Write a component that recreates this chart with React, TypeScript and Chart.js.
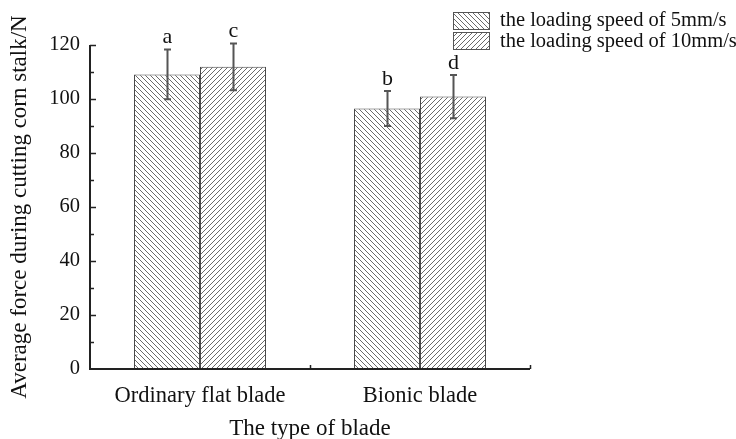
import React, { useEffect, useRef } from "react";
import { Chart, registerables } from "chart.js";

Chart.register(...registerables);

const categories = ["Ordinary flat blade", "Bionic blade"];
const seriesLabels = ["the loading speed of 5mm/s", "the loading speed of 10mm/s"];
const speed5 = [109.1, 96.5];
const speed10 = [111.9, 100.9];
const err5 = [9.2, 6.5];
const err10 = [8.7, 8.0];
const letters5 = ["a", "b"];
const letters10 = ["c", "d"];
const yMin = 0;
const yMax = 120;
const yMajorStep = 20;
const yMinorStep = 10;
const yTitle = "Average force during cutting corn stalk/N";
const xTitle = "The type of blade";

const FONT = "'Liberation Serif', 'Times New Roman', serif";
const TEXT = "#111111";
const AXIS = "#222222";

function makeHatch(dir: "back" | "fwd"): CanvasPattern | string {
  const s = 5;
  const c = document.createElement("canvas");
  c.width = s;
  c.height = s;
  const ctx = c.getContext("2d");
  if (!ctx) return "#fff";
  ctx.fillStyle = "#ffffff";
  ctx.fillRect(0, 0, s, s);
  ctx.strokeStyle = "#6a6a6a";
  ctx.lineWidth = 1;
  ctx.beginPath();
  for (let k = -1; k <= 2; k++) {
    if (dir === "back") {
      ctx.moveTo(-1, -1 + k * s);
      ctx.lineTo(s + 1, s + 1 + k * s);
    } else {
      ctx.moveTo(-1, k * s + 1);
      ctx.lineTo(s + 1, k * s - s - 1);
    }
  }
  ctx.stroke();
  const p = ctx.createPattern(c, "repeat");
  return p || "#fff";
}

const errs = [err5, err10];
const letters = [letters5, letters10];

const overlayPlugin = {
  id: "overlay",
  afterDatasetsDraw(chart: any) {
    const ctx = chart.ctx;
    const x = chart.scales.x;
    const y = chart.scales.y;
    ctx.save();
    // error bars and letters
    chart.data.datasets.forEach((ds: any, di: number) => {
      const meta = chart.getDatasetMeta(di);
      meta.data.forEach((bar: any, i: number) => {
        const v = ds.data[i];
        const e = errs[di][i];
        const cx = Math.round(bar.x) + 0.5;
        const yt = y.getPixelForValue(v + e);
        const yb = y.getPixelForValue(v - e);
        ctx.strokeStyle = "#555555";
        ctx.lineWidth = 2;
        ctx.beginPath();
        ctx.moveTo(cx, yt);
        ctx.lineTo(cx, yb);
        ctx.moveTo(cx - 3.5, yt);
        ctx.lineTo(cx + 3.5, yt);
        ctx.moveTo(cx - 3.5, yb);
        ctx.lineTo(cx + 3.5, yb);
        ctx.stroke();
        ctx.fillStyle = TEXT;
        ctx.font = `22px ${FONT}`;
        ctx.textAlign = "center";
        ctx.textBaseline = "bottom";
        ctx.fillText(letters[di][i], cx, yt - 1);
      });
    });
    // axes
    ctx.strokeStyle = AXIS;
    ctx.lineWidth = 2;
    const left = Math.round(chart.chartArea.left);
    const right = Math.round(chart.chartArea.right);
    const bottom = Math.round(y.getPixelForValue(yMin));
    const top = Math.round(y.getPixelForValue(yMax));
    ctx.beginPath();
    ctx.moveTo(left, top);
    ctx.lineTo(left, bottom);
    ctx.lineTo(right, bottom);
    ctx.stroke();
    ctx.lineWidth = 1.5;
    ctx.beginPath();
    for (let v = yMin; v <= yMax; v += yMinorStep) {
      const py = Math.round(y.getPixelForValue(v)) + 0.5;
      const len = v % yMajorStep === 0 ? 6 : 4;
      if (v === yMin) continue;
      ctx.moveTo(left, py);
      ctx.lineTo(left + len, py);
    }
    // x ticks at category boundaries
    const n = categories.length;
    for (let i = 0; i < n; i++) {
      const b = x.getPixelForValue(i) + (x.getPixelForValue(1) - x.getPixelForValue(0)) / 2;
      const bx = Math.round(b) + 0.5;
      ctx.moveTo(bx, bottom);
      ctx.lineTo(bx, bottom - 4);
    }
    ctx.stroke();
    // legend
    const lx = 453;
    const ly = [12, 32];
    const ty = [21, 42];
    chart.data.datasets.forEach((ds: any, di: number) => {
      ctx.fillStyle = ds.backgroundColor;
      ctx.fillRect(lx, ly[di], 37, 18);
      ctx.strokeStyle = "#555555";
      ctx.lineWidth = 1;
      ctx.strokeRect(lx + 0.5, ly[di] + 0.5, 36, 17);
      ctx.fillStyle = TEXT;
      ctx.font = `20.5px ${FONT}`;
      ctx.textAlign = "left";
      ctx.textBaseline = "middle";
      ctx.fillText(ds.label, 500, ty[di]);
    });
    ctx.restore();
  },
};

export default function App() {
  const ref = useRef<HTMLCanvasElement | null>(null);
  useEffect(() => {
    if (!ref.current) return;
    const chart = new Chart(ref.current, {
      type: "bar",
      data: {
        labels: categories,
        datasets: [
          {
            label: seriesLabels[0],
            data: speed5,
            backgroundColor: makeHatch("back") as any,
            borderColor: "#4a4a4a",
            borderWidth: 1,
            categoryPercentage: 0.6,
            barPercentage: 1.0,
          },
          {
            label: seriesLabels[1],
            data: speed10,
            backgroundColor: makeHatch("fwd") as any,
            borderColor: "#4a4a4a",
            borderWidth: 1,
            categoryPercentage: 0.6,
            barPercentage: 1.0,
          },
        ],
      },
      options: {
        animation: false,
        responsive: true,
        maintainAspectRatio: false,
        layout: { padding: { left: 0, top: 45, right: 206, bottom: 0 } },
        plugins: {
          legend: { display: false },
          tooltip: { enabled: false },
        },
        scales: {
          x: {
            grid: { display: false, drawTicks: false },
            border: { display: false },
            ticks: {
              color: TEXT,
              font: { family: FONT, size: 22.5 },
              padding: 14,
              maxRotation: 0,
            },
            title: {
              display: true,
              text: xTitle,
              color: TEXT,
              font: { family: FONT, size: 23, lineHeight: 0.85 },
              padding: { top: 0, bottom: 0 },
            },
            afterFit: (s: any) => {
              s.height = 70;
            },
          },
          y: {
            min: yMin,
            max: yMax,
            grid: { display: false, drawTicks: false },
            border: { display: false },
            ticks: {
              stepSize: yMajorStep,
              color: TEXT,
              font: { family: FONT, size: 20.5 },
              padding: 10,
            },
            title: {
              display: true,
              text: yTitle,
              color: TEXT,
              font: { family: FONT, size: 23 },
              padding: { top: 6, bottom: 0 },
            },
            afterFit: (s: any) => {
              s.width = 90;
            },
          },
        },
      },
      plugins: [overlayPlugin],
    });
    return () => chart.destroy();
  }, []);
  return (
    <div style={{ position: "absolute", left: 0, top: 0, width: 736, height: 439, background: "#fff" }}>
      <canvas ref={ref} />
    </div>
  );
}
